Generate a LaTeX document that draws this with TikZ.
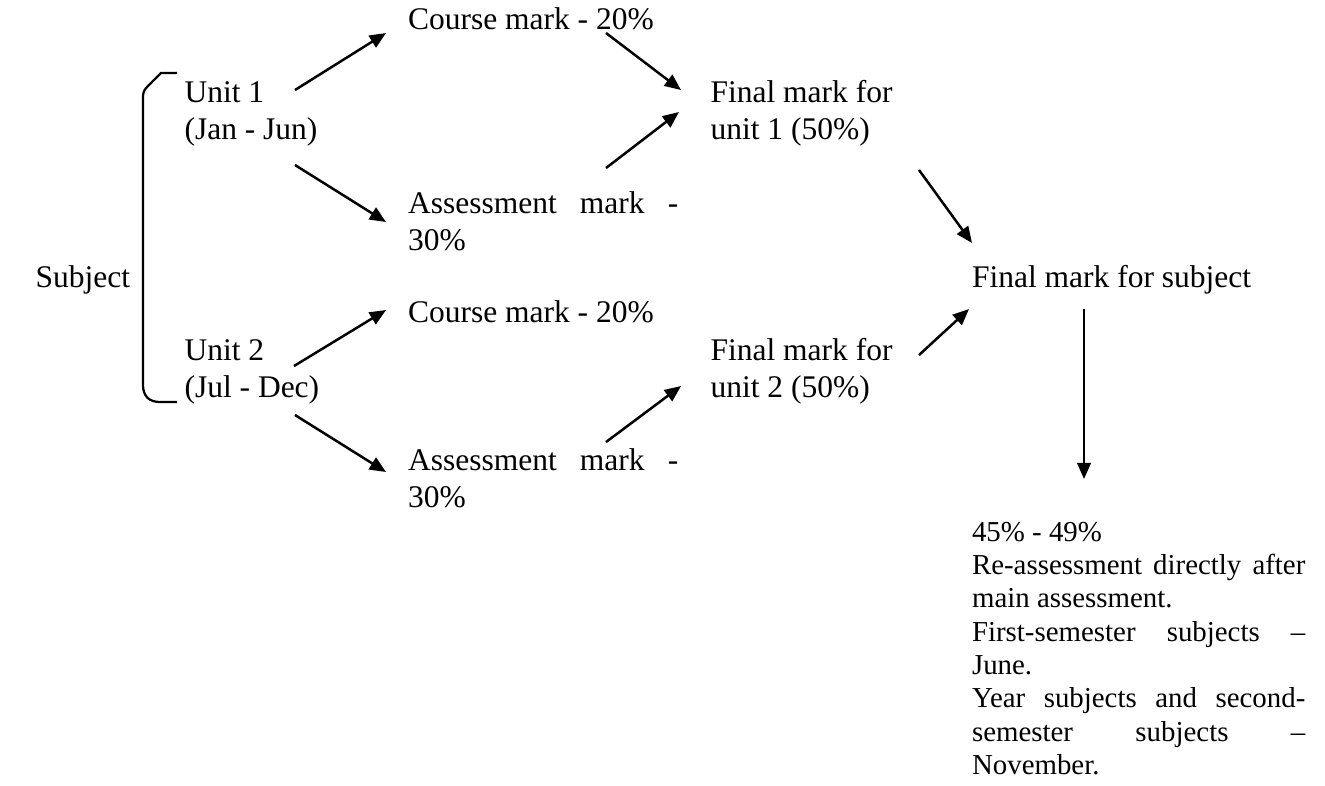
\documentclass[tikz,border=0pt]{standalone}
\usepackage{fontspec}
\setmainfont{Liberation Serif}
\usetikzlibrary{arrows.meta}
\tikzstyle{textblock} = [inner sep=0pt, anchor=west, align=left, font=\fontsize{12}{14.1}\selectfont]
\tikzstyle{notes} = [textblock, font=\fontsize{11}{12.7}\selectfont]
\tikzstyle{arrow} = [->, >={Stealth[inset=0pt, length=6.2pt, width=5.2pt]}, line width=0.95pt]
\tikzstyle{bracket} = [line width=0.85pt]
\newcommand{\jline}[2]{\makebox[#1][s]{#2}}

\begin{document}
\begin{tikzpicture}[x=0.381pt, y=-0.381pt]
    \useasboundingbox (0,0) rectangle (1325,785);
    %text blocks
    \node (subject) [textblock] at (35,280) {\strut Subject\strut};
    \node (unita) [textblock] at (184,113.5) {\strut Unit 1\\(Jan - Jun)\strut};
    \node (unitb) [textblock] at (184,371.5) {\strut Unit 2\\(Jul - Dec)\strut};
    \node (coursea) [textblock] at (407.5,22) {\strut Course mark - 20\%\strut};
    \node (assessa) [textblock] at (407.5,225) {\strut\jline{103pt}{Assessment mark -}\\30\%\strut};
    \node (courseb) [textblock] at (407.5,315) {\strut Course mark - 20\%\strut};
    \node (assessb) [textblock] at (407.5,481.5) {\strut\jline{103pt}{Assessment mark -}\\30\%\strut};
    \node (finala) [textblock] at (710,113.5) {\strut Final mark for\\unit 1 (50\%)\strut};
    \node (finalb) [textblock] at (710,371.5) {\strut Final mark for\\unit 2 (50\%)\strut};
    \node (finals) [textblock] at (971.5,280) {\strut Final mark for subject\strut};
    \node (retake) [notes] at (971.5,651) {\strut 45\% - 49\%\\
        \jline{127pt}{Re-assessment directly after}\\
        main assessment.\\
        \jline{127pt}{First-semester subjects –}\\
        June.\\
        \jline{127pt}{Year subjects and second-}\\
        \jline{127pt}{semester subjects –}\\
        November.\strut};

    %bracket round the two units
    \draw [bracket] (177,73) -- (161,73) -- (147,87) .. controls (144,90) and (143,93) .. (143,97) -- (143,385) .. controls (143,396) and (149,402) .. (160,402) -- (177,402);

    %arrows
    \draw [arrow] ([shift={(111,-23.5)}]unita.west) -- ([shift={(-21.5,11)}]coursea.west);
    \draw [arrow] ([shift={(111,51.5)}]unita.west) -- ([shift={(-21.5,-3)}]assessa.west);
    \draw [arrow] ([shift={(198.5,11)}]coursea.west) -- ([shift={(-29,-23.5)}]finala.west);
    \draw [arrow] ([shift={(198.5,-57)}]assessa.west) -- ([shift={(-31,-1.5)}]finala.west);
    \draw [arrow] ([shift={(110,-5.5)}]unitb.west) -- ([shift={(-21.5,-5)}]courseb.west);
    \draw [arrow] ([shift={(111,43.5)}]unitb.west) -- ([shift={(-21.5,-9.5)}]assessb.west);
    \draw [arrow] ([shift={(198.5,-39.5)}]assessb.west) -- ([shift={(-29,14.5)}]finalb.west);
    \draw [arrow] ([shift={(209,56.5)}]finala.west) -- ([shift={(0.5,-37)}]finals.west);
    \draw [arrow] ([shift={(209,-16.5)}]finalb.west) -- ([shift={(-2.5,29)}]finals.west);
    \draw [arrow] ([shift={(112.5,29)}]finals.west) -- ([shift={(112.5,-172)}]retake.west);
\end{tikzpicture}
\end{document}
